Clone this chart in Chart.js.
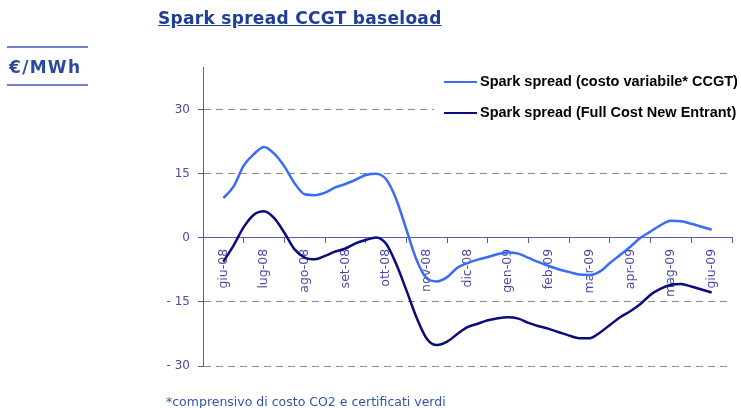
<!DOCTYPE html>
<html>
<head>
<meta charset="utf-8">
<script src="https://cdn.jsdelivr.net/npm/chart.js@4.4.1/dist/chart.umd.min.js"></script>
<style>
  body { margin: 0; background: #fff; width: 741px; height: 408px; position: relative; overflow: hidden; font-family: "DejaVu Sans", sans-serif; }
  #grafico { position: absolute; left: 0; top: 0; }
  .titolo { position: absolute; left: 158px; top: 8px; font-size: 17px; line-height: 20px; font-weight: bold; letter-spacing: 0.3px; color: #1f3d99; text-decoration: underline; white-space: nowrap; }
  .unita { position: absolute; left: 9px; top: 57px; font-size: 17px; line-height: 20px; font-weight: bold; letter-spacing: 1.3px; color: #2a4a9e; }
  .riga { position: absolute; left: 7px; width: 81px; height: 2px; background: #6b86c8; }
  .nota { position: absolute; left: 166px; top: 394px; font-size: 12.5px; line-height: 16px; color: #3355aa; white-space: nowrap; }
</style>
</head>
<body>
<canvas id="grafico" width="741" height="408"></canvas>
<div class="titolo">Spark spread CCGT baseload</div>
<div class="riga" style="top:46px"></div>
<div class="unita">€/MWh</div>
<div class="riga" style="top:84px"></div>
<div class="nota">*comprensivo di costo CO2 e certificati verdi</div>

<script>
const mesi = ['giu-08', 'lug-08', 'ago-08', 'set-08', 'ott-08', 'nov-08', 'dic-08', 'gen-09', 'feb-09', 'mar-09', 'apr-09', 'mag-09', 'giu-09'];

// posizione di ogni rilevazione (settimanale) in mesi a partire da giu-08
const settimane = [0, 0.25, 0.5, 0.75, 1, 1.25, 1.5, 1.75, 2, 2.25, 2.5, 2.75, 3, 3.25, 3.5, 3.75,
  4, 4.25, 4.5, 4.75, 5, 5.25, 5.5, 5.75, 6, 6.25, 6.5, 6.75, 7, 7.25, 7.5, 7.75,
  8, 8.25, 8.5, 8.75, 9, 9.25, 9.5, 9.75, 10, 10.25, 10.5, 10.75, 11, 11.25, 11.5, 11.75, 12];

const spreadVariabile = [9.3, 12.0, 16.9, 19.6, 21.3, 19.7, 16.7, 12.8, 10.2, 10.0, 10.6, 11.8, 12.6, 13.6, 14.7, 15.0,
  13.7, 9.0, 1.9, -5.2, -9.5, -10.2, -9.2, -7.0, -5.9, -5.1, -4.5, -3.8, -3.4, -3.7, -4.7, -5.7,
  -6.6, -7.4, -8.0, -8.6, -8.7, -7.9, -5.9, -4.0, -2.1, 0.0, 1.5, 3.0, 4.0, 3.9, 3.3, 2.6, 1.9];

const spreadFullCost = [-5.6, -1.8, 2.5, 5.4, 6.2, 4.6, 1.2, -2.7, -4.6, -5.0, -4.2, -3.2, -2.5, -1.3, -0.5, 0.1,
  -1.4, -6.2, -12.3, -18.7, -23.6, -25.1, -24.3, -22.5, -20.9, -20.1, -19.3, -18.8, -18.6, -18.9, -19.9, -20.7,
  -21.3, -22.1, -22.9, -23.5, -23.5, -22.2, -20.4, -18.6, -17.2, -15.5, -13.3, -11.9, -11.0, -10.8, -11.4, -12.1, -12.8];

const tickAsseY = [-30, -15, 0, 15, 30];

const coloreAsse = '#5a5ab4';
const coloreTesto = '#4a4aa8';

// legenda disegnata dentro l'area del grafico, in alto a destra
const legendaInterna = {
  id: 'legendaInterna',
  afterDraw(chart) {
    const ctx = chart.ctx;
    ctx.save();
    ctx.fillStyle = '#fff';
    ctx.fillRect(434, 68, 307, 58);
    chart.data.datasets.forEach((ds, i) => {
      const y = 82 + i * 31;
      ctx.strokeStyle = ds.borderColor;
      ctx.lineWidth = 2;
      ctx.beginPath();
      ctx.moveTo(444, y);
      ctx.lineTo(477, y);
      ctx.stroke();
      ctx.fillStyle = '#000';
      ctx.font = 'bold 14.5px "Liberation Sans"';
      ctx.textBaseline = 'middle';
      ctx.fillText(ds.label, 480, y);
    });
    ctx.restore();
  }
};

new Chart(document.getElementById('grafico'), {
  type: 'line',
  data: {
    datasets: [
      {
        label: 'Spark spread (costo variabile* CCGT)',
        data: spreadVariabile.map((v, i) => ({ x: settimane[i], y: v })),
        xAxisID: 'xd',
        borderColor: '#3a6cf6',
        borderWidth: 2.5,
        pointRadius: 0,
        cubicInterpolationMode: 'monotone'
      },
      {
        label: 'Spark spread (Full Cost New Entrant)',
        data: spreadFullCost.map((v, i) => ({ x: settimane[i], y: v })),
        xAxisID: 'xd',
        borderColor: '#0b0b7e',
        borderWidth: 2.5,
        pointRadius: 0,
        cubicInterpolationMode: 'monotone'
      }
    ]
  },
  options: {
    responsive: false,
    animation: false,
    layout: { padding: { left: 163, top: 67, right: 9, bottom: 42 } },
    plugins: {
      legend: { display: false },
      tooltip: { enabled: false }
    },
    scales: {
      x: {
        type: 'category',
        labels: mesi,
        offset: true,
        position: { y: 0 },
        grid: { offset: true, drawOnChartArea: false, drawTicks: true, tickLength: 5, tickColor: coloreAsse },
        border: { color: coloreAsse, width: 1 },
        ticks: {
          autoSkip: false,
          minRotation: 90,
          maxRotation: 90,
          padding: 6,
          color: coloreTesto,
          font: { family: 'DejaVu Sans', size: 12.5 }
        }
      },
      xd: { type: 'linear', display: false, min: -0.5, max: 12.5 },
      y: {
        min: -30,
        max: 40,
        afterBuildTicks: s => { s.ticks = tickAsseY.map(v => ({ value: v })); },
        afterFit: s => { s.width = 40; },
        grid: {
          color: c => (c.tick && c.tick.value === 0) ? 'rgba(0,0,0,0)' : '#8c8c8c',
          tickColor: coloreAsse,
          tickLength: 5
        },
        border: { color: coloreAsse, width: 1, dash: [7, 5] },
        ticks: {
          padding: 8,
          color: coloreTesto,
          font: { family: 'DejaVu Sans', size: 12 },
          callback: v => v < 0 ? '- ' + Math.abs(v) : String(v)
        }
      }
    }
  },
  plugins: [legendaInterna]
});
</script>
</body>
</html>
